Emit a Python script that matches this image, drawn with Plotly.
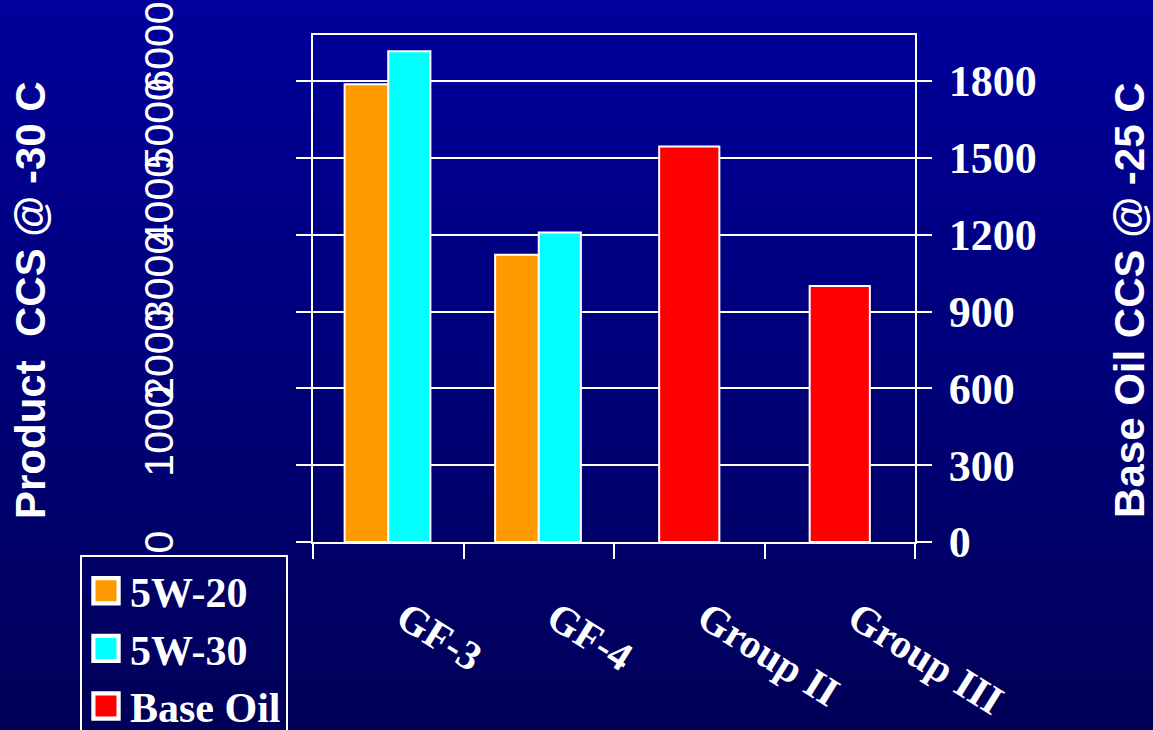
import plotly.graph_objects as go

# Category order on the shared x axis
categories = ["GF-3", "GF-4", "Group II", "Group III"]

# Fully formulated oils, CCS @ -30 C (left axis, cP)
product_categories = ["GF-3", "GF-4"]
ccs_5w20 = [5960, 3740]
ccs_5w30 = [6390, 4030]

# Base oils, CCS @ -25 C (right axis, cP)
base_categories = ["Group II", "Group III"]
ccs_base_oil = [1545, 1000]

# Axis ticks
left_tick_values = [0, 1000, 2000, 3000, 4000, 5000, 6000]
left_tick_labels = ["0", "1000", "2000", "3000", "4000", "5000", "6000"]
right_tick_values = [0, 300, 600, 900, 1200, 1500, 1800]
right_tick_labels = ["0", "300", "600", "900", "1200", "1500", "1800"]

W, H = 1153, 730
M_L, M_R, M_T, M_B = 313, 238, 35, 188

WHITE = "white"
ORANGE = "#FF9900"
CYAN = "#00FFFF"
RED = "#FF0000"

SERIF = "Liberation Serif"
SANS = "Liberation Sans"

fig = go.Figure()

bar_line = dict(color=WHITE, width=2)
fig.add_trace(go.Bar(
    name="5W-20", x=product_categories, y=ccs_5w20,
    offset=-0.29, width=0.29,
    marker=dict(color=ORANGE, line=bar_line), yaxis="y",
))
fig.add_trace(go.Bar(
    name="5W-30", x=product_categories, y=ccs_5w30,
    offset=0.0, width=0.28,
    marker=dict(color=CYAN, line=bar_line), yaxis="y",
))
fig.add_trace(go.Bar(
    name="Base Oil", x=base_categories, y=ccs_base_oil,
    offset=-0.2, width=0.4,
    marker=dict(color=RED, line=bar_line), yaxis="y2",
))

# vertical background gradient, dark blue fading darker toward the bottom
plot_h = H - M_T - M_B
plot_w = W - M_L - M_R
top_rgb = (0, 0, 155)
bot_rgb = (0, 0, 88)
n_strips = 146
shapes = []
for i in range(n_strips):
    py0 = H * i / n_strips
    py1 = H * (i + 1) / n_strips + 1
    t = (py0 + py1) / 2 / H
    c = tuple(round(a + (b - a) * t) for a, b in zip(top_rgb, bot_rgb))
    shapes.append(dict(
        type="rect", xref="paper", yref="paper", layer="below",
        x0=-M_L / plot_w - 0.01, x1=1 + M_R / plot_w + 0.01,
        y0=(H - M_B - py1) / plot_h, y1=(H - M_B - py0) / plot_h,
        line=dict(width=0), fillcolor="rgb(%d,%d,%d)" % c,
    ))

# pad the single-digit label so every rotated label starts at the same spot
FIG_SPACE = "\u2007"
left_text = [lab if len(lab) == 4 else lab + FIG_SPACE * (4 - len(lab)) for lab in left_tick_labels]

NBSP = "\u00a0"
ZWSP = "\u200b"  # keeps the trailing padding from being trimmed
title_font = dict(family=SANS, size=42, color=WHITE, weight="bold")

fig.update_layout(
    width=W, height=H,
    margin=dict(l=M_L, r=M_R, t=M_T, b=M_B, autoexpand=False),
    paper_bgcolor="rgb(0,0,120)",
    plot_bgcolor="rgba(0,0,0,0)",
    barmode="overlay",
    shapes=shapes,
    showlegend=True,
    legend=dict(
        x=(80 - M_L) / plot_w, y=(H - M_B - 555) / plot_h,
        xanchor="left", yanchor="top",
        bgcolor="rgba(0,0,0,0)", bordercolor=WHITE, borderwidth=2,
        font=dict(family=SERIF, size=42, color=WHITE, weight="bold"),
        traceorder="normal", itemwidth=38,
    ),
    xaxis=dict(
        type="category", categoryorder="array", categoryarray=categories,
        range=[-0.5, 3.5],
        tickson="boundaries", ticks="outside", ticklen=15, tickwidth=2, tickcolor=WHITE,
        showline=True, linecolor=WHITE, linewidth=2, mirror=True,
        showgrid=False, tickangle=32,
        tickfont=dict(family=SERIF, size=41, color=WHITE, weight="bold"),
        ticklabelstandoff=34, ticklabelshift=16,
    ),
    yaxis=dict(
        range=[0, 6600],
        tickvals=left_tick_values, ticktext=left_text,
        tickangle=-90,
        tickfont=dict(family=SANS, size=41, color=WHITE),
        ticks="outside", ticklen=15, tickwidth=2, tickcolor=WHITE,
        showline=True, linecolor=WHITE, linewidth=2,
        showgrid=False, zeroline=False,
        ticklabelstandoff=107, ticklabelshift=-28,
        title=dict(text="Product" + NBSP + " CCS @ -30 C" + FIG_SPACE + ZWSP,
                   font=title_font, standoff=77),
    ),
    yaxis2=dict(
        range=[0, 1980], overlaying="y", side="right",
        tickvals=right_tick_values, ticktext=right_tick_labels,
        tickfont=dict(family=SERIF, size=44, color=WHITE, weight="bold"),
        ticks="outside", ticklen=15, tickwidth=2, tickcolor=WHITE,
        showline=True, linecolor=WHITE, linewidth=2,
        showgrid=True, gridcolor=WHITE, gridwidth=2, zeroline=False,
        ticklabelstandoff=8,
        title=dict(text="Base Oil CCS @ -25 C" + FIG_SPACE + ZWSP,
                   font=title_font, standoff=80),
    ),
)

# enlarge the legend swatches to match the large legend text
post_js = """
var gd = document.getElementsByClassName('plotly-graph-div')[0];
function growSwatches() {
  gd.querySelectorAll('.legend .legendpoints path').forEach(function (p) {
    if (p.dataset.baseTransform === undefined) {
      p.dataset.baseTransform = p.getAttribute('transform') || '';
    }
    p.setAttribute('transform', p.dataset.baseTransform + ' scale(2.1)');
  });
}
growSwatches();
gd.on('plotly_afterplot', growSwatches);
"""

fig.write_html("out.html", post_script=post_js)
